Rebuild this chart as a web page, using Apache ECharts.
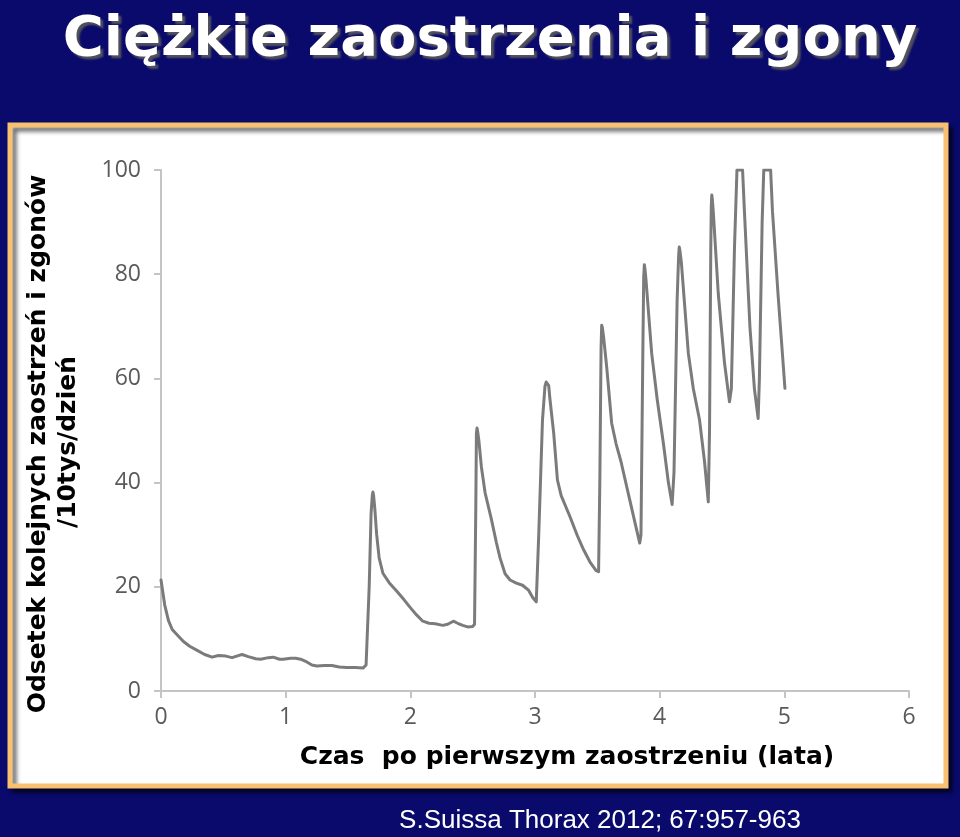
<!DOCTYPE html>
<html>
<head>
<meta charset="utf-8">
<script src="https://cdn.jsdelivr.net/npm/echarts@6/dist/echarts.min.js"></script>
<style>html,body{margin:0;padding:0;background:#08086a;}#c{width:960px;height:837px;}</style>
</head>
<body>
<div id="c"></div>
<script>
// Time after first exacerbation (years)
const timeYears = [
  0.00,0.03,0.06,0.09,0.14,0.18,0.23,0.29,0.35,0.41,0.46,0.52,0.57,0.62,0.65,0.70,0.76,0.80,0.86,0.90,
  0.95,0.98,1.04,1.08,1.12,1.16,1.21,1.25,1.31,1.37,1.43,1.49,1.56,1.62,1.645,1.67,1.685,1.695,1.70,1.705,1.715,1.73,
  1.75,1.78,1.83,1.89,1.95,2.00,2.05,2.10,2.15,2.20,2.26,2.30,2.345,2.38,2.42,2.46,2.50,2.515,2.525,2.53,2.535,2.54,
  2.55,2.57,2.60,2.65,2.69,2.72,2.76,2.80,2.85,2.90,2.95,2.98,3.01,3.03,3.06,3.08,3.09,3.10,3.11,3.12,3.15,3.18,
  3.21,3.28,3.34,3.39,3.44,3.49,3.51,3.52,3.53,3.535,3.54,3.55,3.575,3.615,3.65,3.69,3.76,3.80,3.84,3.85,3.865,3.872,3.877,3.882,
  3.89,3.936,3.98,4.03,4.07,4.10,4.115,4.14,4.152,4.157,4.162,4.175,4.23,4.27,4.32,4.36,4.39,4.40,4.41,4.414,4.418,4.422,4.43,4.47,
  4.52,4.56,4.575,4.60,4.62,4.665,4.68,4.724,4.76,4.79,4.80,4.822,4.835,4.89,4.905,4.95,5.005
];
// Rate of subsequent severe exacerbations and deaths per 10,000 per day
const rate = [
  21.3,16.5,13.5,11.8,10.5,9.5,8.6,7.8,7.0,6.5,6.8,6.7,6.4,6.8,7.0,6.6,6.2,6.1,6.4,6.5,
  6.1,6.1,6.3,6.3,6.1,5.7,5.0,4.8,4.9,4.9,4.6,4.5,4.5,4.4,5.0,20,34,37.6,38.2,37.6,35,30,
  25.5,22.6,20.8,19.2,17.5,16.0,14.6,13.4,13.0,12.9,12.6,12.8,13.4,13.0,12.6,12.3,12.4,12.8,35,49.5,50.5,49.8,
  48,43,38,33,28.5,25.5,22.5,21.3,20.7,20.3,19.3,18.0,17.1,30,52,58.5,59.3,59.5,58.6,56,49.5,40.5,
  37.5,33.5,29.8,27.1,24.8,23.1,22.9,40,66,70.2,69.8,68,62.2,51.4,47.5,44,36.7,32.5,28.4,30,65,79.5,81.8,81,
  79,64.8,56,47.5,40,35.8,42,75,83.5,85.2,84.6,82,64.8,58,52,44,36.3,50,85,93,95.2,94.5,92,76.3,
  63,55.5,58,85,100,100,92,69.9,58,52.3,60,90,100,100,92,76,58.1
];
const xTicks = [0,1,2,3,4,5,6];
const yTicks = [0,20,40,60,80,100];

const titleText = 'Ciężkie zaostrzenia i zgony';
const yName1 = 'Odsetek kolejnych zaostrzeń i zgonów';
const yName2 = '/10tys/dzień';
const xName = 'Czas  po pierwszym zaostrzeniu (lata)';
const citation = 'S.Suissa Thorax 2012; 67:957-963';

const points = timeYears.map((t, i) => [t, rate[i]]);
const chart = echarts.init(document.getElementById('c'), null, {renderer: 'canvas'});
const tickColor = '#c4c4c4';
const labelColor = '#5a5a5a';
chart.setOption({
  backgroundColor: '#0a0a6c',
  animation: false,
  grid: {left: 161, right: 51, top: 170, bottom: 146},
  xAxis: {
    type: 'value', min: xTicks[0], max: xTicks[xTicks.length-1], interval: 1,
    axisLine: {show: true, lineStyle: {color: tickColor, width: 2}},
    axisTick: {show: true, length: 7, lineStyle: {color: tickColor, width: 2}},
    splitLine: {show: false},
    axisLabel: {color: labelColor, fontSize: 23, fontFamily: 'Open Sans', margin: 15}
  },
  yAxis: {
    type: 'value', min: yTicks[0], max: yTicks[yTicks.length-1], interval: 20,
    axisLine: {show: true, lineStyle: {color: tickColor, width: 2}},
    axisTick: {show: true, length: 7, lineStyle: {color: tickColor, width: 2}},
    splitLine: {show: false},
    axisLabel: {color: labelColor, fontSize: 23, fontFamily: 'Open Sans', margin: 20}
  },
  graphic: [
    {type: 'rect', z: -10, shape: {x: 10, y: 125, width: 936, height: 661},
     style: {fill: '#ffffff', stroke: '#f8c172', lineWidth: 5, shadowColor: 'rgba(0,0,0,0.6)', shadowOffsetX: 4, shadowOffsetY: 4, shadowBlur: 4}},
    {type: 'text', z: 10, x: 490, y: 40,
     style: {text: titleText, fill: '#ffffff', font: 'bold 56px "DejaVu Sans"', textAlign: 'center', textVerticalAlign: 'middle',
       textShadowColor: 'rgba(90,90,90,0.9)', textShadowOffsetX: 3, textShadowOffsetY: 3, textShadowBlur: 2}},
    {type: 'text', z: 10, x: 38, y: 444, rotation: Math.PI/2,
     style: {text: yName1, fill: '#000000', font: 'bold 25px "DejaVu Sans"', textAlign: 'center', textVerticalAlign: 'middle'}},
    {type: 'text', z: 10, x: 68, y: 442, rotation: Math.PI/2,
     style: {text: yName2, fill: '#000000', font: 'bold 25px "DejaVu Sans"', textAlign: 'center', textVerticalAlign: 'middle'}},
    {type: 'text', z: 10, x: 567, y: 757,
     style: {text: xName, fill: '#000000', font: 'bold 25px "DejaVu Sans"', textAlign: 'center', textVerticalAlign: 'middle'}},
    {type: 'text', z: 10, x: 600, y: 821,
     style: {text: citation, fill: '#ffffff', font: '26px "Liberation Sans"', textAlign: 'center', textVerticalAlign: 'middle'}}
  ],
  series: [{
    type: 'line', data: points, symbol: 'none', smooth: false, clip: true,
    lineStyle: {color: '#7b7b7b', width: 3, join: 'round', cap: 'round'}
  }]
});
</script>
</body>
</html>
